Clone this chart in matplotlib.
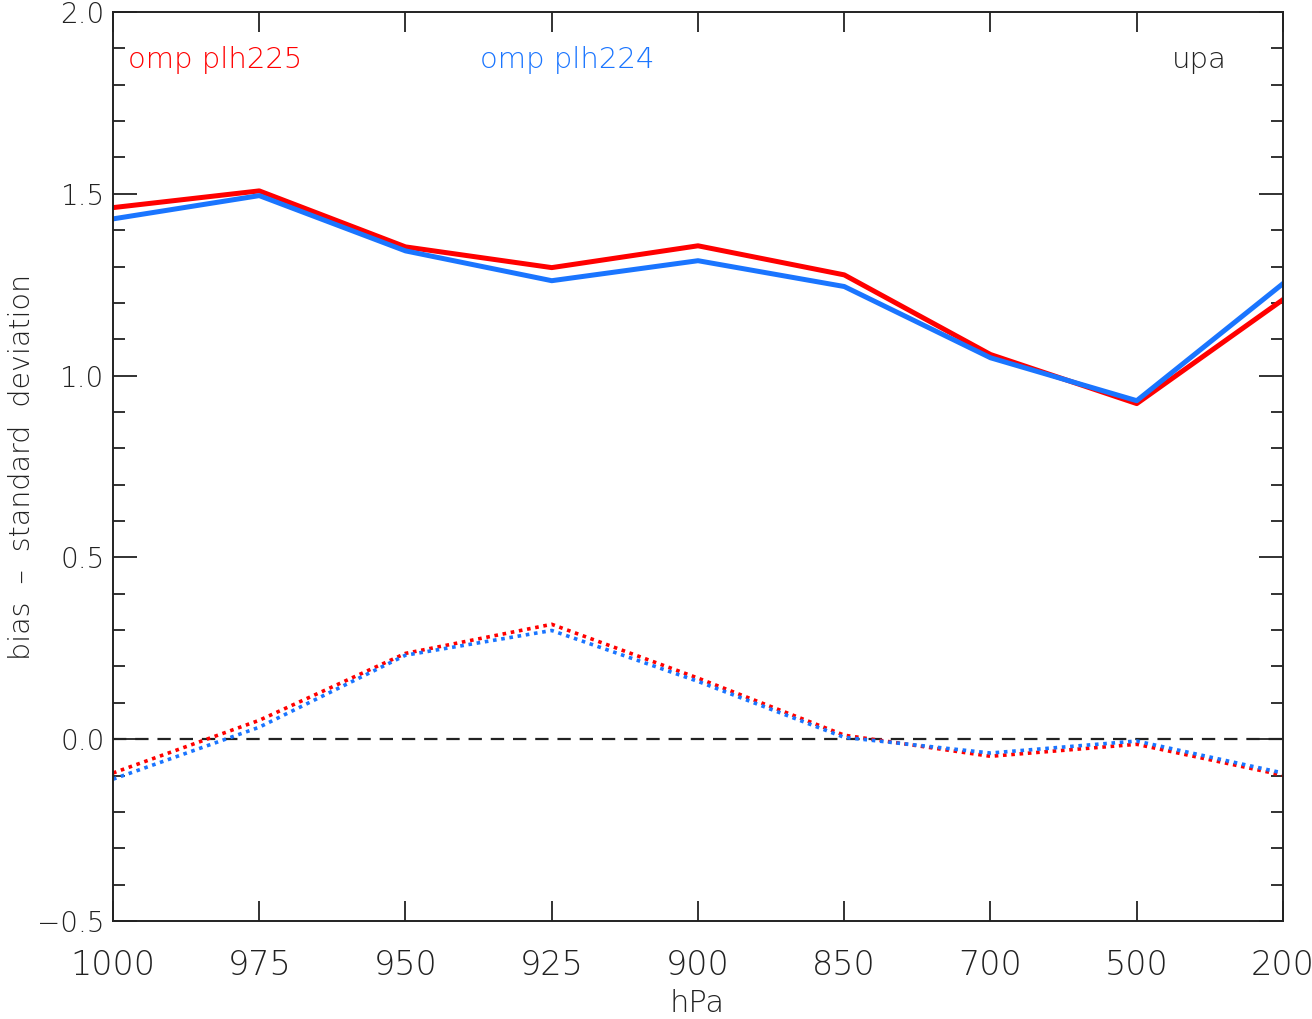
import numpy as np
import matplotlib
matplotlib.use("Agg")
import matplotlib.pyplot as plt
from matplotlib.ticker import MultipleLocator

plt.rcParams['font.family'] = ['DejaVu Sans']
plt.rcParams['font.weight'] = 'light'

levels = ['1000', '975', '950', '925', '900', '850', '700', '500', '200']

# standard deviation
sd_225 = [1.462, 1.508, 1.354, 1.297, 1.357, 1.277, 1.058, 0.923, 1.209]
sd_224 = [1.431, 1.495, 1.343, 1.261, 1.316, 1.245, 1.049, 0.931, 1.253]
# bias
bias_225 = [-0.093, 0.052, 0.236, 0.316, 0.168, 0.011, -0.047, -0.014, -0.099]
bias_224 = [-0.110, 0.033, 0.231, 0.299, 0.159, 0.005, -0.038, -0.005, -0.093]

red = '#ff0000'
blue = '#1a75ff'
ink = '#222222'

fig = plt.figure(figsize=(13.12, 10.19), dpi=100)
ax = fig.add_axes([113 / 1312, 1 - 921 / 1019, 1170 / 1312, 909 / 1019])

x = np.arange(len(levels))
ax.axhline(0.0, color=ink, lw=1.6, ls=(0, (6, 4)), zorder=1)
ax.plot(x, sd_225, color=red, lw=3.6)
ax.plot(x, sd_224, color=blue, lw=3.6)
ax.plot(x, bias_225, color=red, lw=2.6, ls=(0, (1, 1.3)))
ax.plot(x, bias_224, color=blue, lw=2.6, ls=(0, (1, 1.3)))

ax.set_xlim(0, len(levels) - 1)
ax.set_ylim(-0.5, 2.0)
ax.set_xticks(x)
ax.set_xticklabels(levels)
ax.set_yticks(np.arange(-0.5, 2.01, 0.5))
ax.set_yticklabels(['\u22120.5', '0.0', '0.5', '1.0', '1.5', '2.0'])
ax.yaxis.set_minor_locator(MultipleLocator(0.1))

ax.tick_params(axis='x', direction='in', top=True, length=14.5, width=1.3,
               labelsize=24, pad=20, colors=ink)
ax.tick_params(axis='y', which='major', direction='in', right=True, length=17,
               width=1.3, labelsize=20, pad=6, colors=ink)
ax.tick_params(axis='y', which='minor', direction='in', right=True, length=8.6,
               width=1.3, colors=ink)
for s in ax.spines.values():
    s.set_linewidth(1.4)
    s.set_color(ink)

fig.text(697 / 1312, 1 - 1003 / 1019, 'hPa', fontsize=22, color=ink,
         ha='center', va='center')
fig.text(22 / 1312, 1 - 467 / 1019, 'bias  \u2013  standard  deviation', fontsize=20.5,
         color=ink, rotation=90, ha='center', va='center')

ax.text(0.013, 0.947, 'omp plh225', color=red, fontsize=21, transform=ax.transAxes,
        va='center', ha='left')
ax.text(0.314, 0.947, 'omp plh224', color=blue, fontsize=21, transform=ax.transAxes,
        va='center', ha='left')
ax.text(0.905, 0.947, 'upa', color=ink, fontsize=21, transform=ax.transAxes,
        va='center', ha='left')

fig.savefig('out.png', dpi=100)
